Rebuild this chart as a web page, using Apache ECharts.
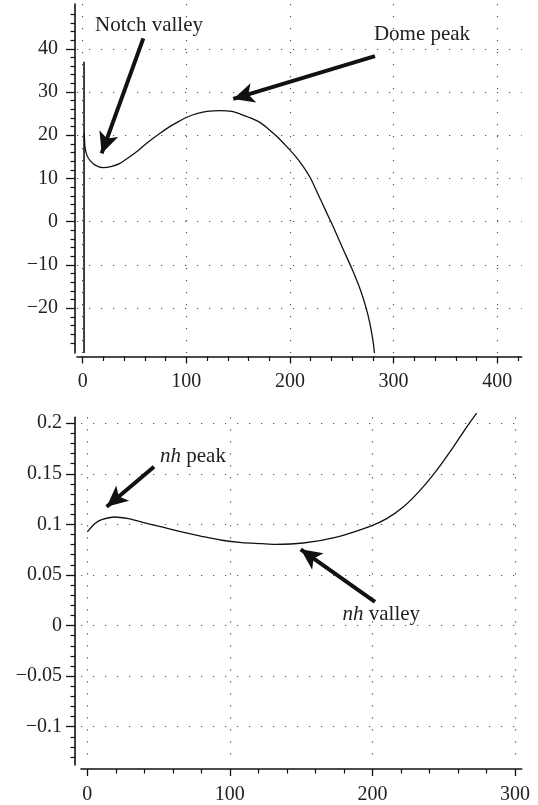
<!DOCTYPE html>
<html>
<head>
<meta charset="utf-8">
<script src="https://cdn.jsdelivr.net/npm/echarts@6/dist/echarts.min.js"></script>
<style>
  html, body { margin: 0; padding: 0; background: #fff; }
  #chart { width: 538px; height: 805px; }
</style>
</head>
<body>
<div id="chart"></div>
<script>
// ---- Upper panel: steep branch near the origin, notch valley, dome peak ----
const domeX = [1.5, 2.2, 4, 7, 12, 20, 28, 36, 44, 52, 60, 68, 76, 84, 92, 100, 110, 120, 132, 144,
               152, 162, 172, 180, 188, 196, 204, 213, 220, 227, 234, 242, 251, 260, 268, 274, 278, 280.5, 281.5];
const domeY = [20.5, 17.3, 15.4, 14.2, 13.1, 12.5, 12.8, 13.5, 14.8, 16.2, 17.8, 19.3, 20.7, 22.0, 23.1, 24.1, 25.0, 25.5, 25.7, 25.5,
               24.9, 24.0, 22.8, 21.3, 19.6, 17.6, 15.5, 12.7, 10.0, 6.4, 2.8, -1.3, -6.2, -11.0, -15.8, -20.4, -24.6, -28.2, -30.37];
// near-vertical branch at the left edge
const branchX = [1.3, 1.3];
const branchY = [-30.37, 37];

// ---- Lower panel: nh curve ----
const nhX = [0, 5.4, 10.1, 19.4, 28.8, 38.2, 52.2, 66.2, 80.2, 94.3, 108.3, 122.3, 131.7, 151.5,
             174.9, 198.3, 210, 221.6, 233.4, 245, 256.7, 266.1, 273.1];
const nhY = [0.0925, 0.1008, 0.1047, 0.1073, 0.1057, 0.1023, 0.0974, 0.0925, 0.0882, 0.0843, 0.0820, 0.0810, 0.0803, 0.0816,
             0.0875, 0.0981, 0.1057, 0.1171, 0.1336, 0.1534, 0.1764, 0.1961, 0.2099];

// axis ranges and tick labels
const upperXRange = [-5.5, 423.6];
const upperYRange = [-30.37, 50.36];
const lowerXRange = [-4.42, 304.7];
const lowerYRange = [-0.1378, 0.2058];
const upperXTicks = [0, 100, 200, 300, 400];
const upperYTicks = [-20, -10, 0, 10, 20, 30, 40];
const lowerXTicks = [0, 100, 200, 300];
const lowerYTicks = [-0.1, -0.05, 0, 0.05, 0.1, 0.15, 0.2];

// annotation arrows: [fromX, fromY, tipX, tipY]
const upperArrows = [[58.5, 42.4, 18.3, 15.8], [282.0, 38.3, 145.3, 28.4]];
const lowerArrows = [[46.8, 0.1569, 13.6, 0.1174], [201.8, 0.0235, 149.7, 0.0753]];
// annotation texts: [x, y, text]
const upperNotes = [[64.0, 45.4, 'Notch valley'], [327.4, 43.3, 'Dome peak']];
const lowerNotes = [[74.1, 0.1672, '{it|nh} peak'], [206.2, 0.0107, '{it|nh} valley']];

const zip = (xs, ys) => xs.map((x, i) => [x, ys[i]]);
const FONT = "'Liberation Serif', 'DejaVu Serif', serif";
const INK = '#111';
const fmt = v => String(+(+v).toFixed(4)).replace('-', '\u2212');

function valueAxis(gridIndex, range, ticks, split, tickLen, labelMargin, offset) {
  return {
    type: 'value',
    gridIndex: gridIndex,
    min: range[0],
    max: range[1],
    splitNumber: split,
    offset: offset,
    axisLine: { show: true, onZero: false, lineStyle: { color: INK, width: 1.6 } },
    axisTick: { show: true, customValues: ticks, length: tickLen, lineStyle: { color: INK, width: 1.3 } },
    minorTick: { show: true, splitNumber: 5, length: 4.5, lineStyle: { color: INK, width: 1.2 } },
    axisLabel: {
      customValues: ticks, formatter: fmt, color: '#222',
      fontFamily: FONT, fontSize: 20, margin: labelMargin
    },
    splitLine: { show: true, lineStyle: { color: '#555', width: 1.2, type: [1.2, 10.8] } },
    minorSplitLine: { show: false }
  };
}

const arrowLines = list => list.map(a => [
  { coord: [a[0], a[1]], symbol: 'none' },
  { coord: [a[2], a[3]], symbol: 'arrow', symbolSize: [15, 21] }
]);
const notePoints = list => list.map(n => ({
  coord: [n[0], n[1]],
  label: { formatter: n[2] }
}));

const markLineStyle = {
  silent: true,
  symbol: ['none', 'arrow'],
  symbolSize: 21,
  lineStyle: { color: INK, width: 4, type: 'solid' },
  label: { show: false },
  emphasis: { disabled: true },
  animation: false
};
const markPointStyle = {
  silent: true,
  symbol: 'circle',
  symbolSize: 0,
  label: {
    show: true, position: 'inside', color: '#222',
    fontFamily: FONT, fontSize: 21,
    rich: { it: { fontFamily: FONT, fontSize: 21, fontStyle: 'italic', color: '#222' } }
  },
  animation: false
};

const chart = echarts.init(document.getElementById('chart'), null, { renderer: 'canvas' });
chart.setOption({
  backgroundColor: '#fff',
  animation: false,
  grid: [
    { left: 77, right: 16.3, top: 4, height: 349 },
    { left: 81, right: 16.3, top: 417.3, height: 347.7 }
  ],
  xAxis: [
    valueAxis(0, upperXRange, upperXTicks, 4, 7, 15, 3.5),
    valueAxis(1, lowerXRange, lowerXTicks, 3, 7, 16, 4)
  ],
  yAxis: [
    valueAxis(0, upperYRange, upperYTicks, 8, 9, 17, 2),
    valueAxis(1, lowerYRange, lowerYTicks, 7, 9, 13, 6)
  ],
  series: [
    {
      name: 'branch', type: 'line', xAxisIndex: 0, yAxisIndex: 0,
      data: zip(branchX, branchY), symbol: 'none', silent: true,
      lineStyle: { color: INK, width: 1.6 }
    },
    {
      name: 'dome', type: 'line', xAxisIndex: 0, yAxisIndex: 0,
      data: zip(domeX, domeY), symbol: 'none', smooth: 0.2, silent: true,
      lineStyle: { color: INK, width: 1.3 },
      markLine: Object.assign({ data: arrowLines(upperArrows) }, markLineStyle),
      markPoint: Object.assign({ data: notePoints(upperNotes) }, markPointStyle)
    },
    {
      name: 'nh', type: 'line', xAxisIndex: 1, yAxisIndex: 1,
      data: zip(nhX, nhY), symbol: 'none', smooth: 0.25, silent: true, clip: false,
      lineStyle: { color: INK, width: 1.3 },
      markLine: Object.assign({ data: arrowLines(lowerArrows) }, markLineStyle),
      markPoint: Object.assign({ data: notePoints(lowerNotes) }, markPointStyle)
    }
  ]
});
</script>
</body>
</html>
